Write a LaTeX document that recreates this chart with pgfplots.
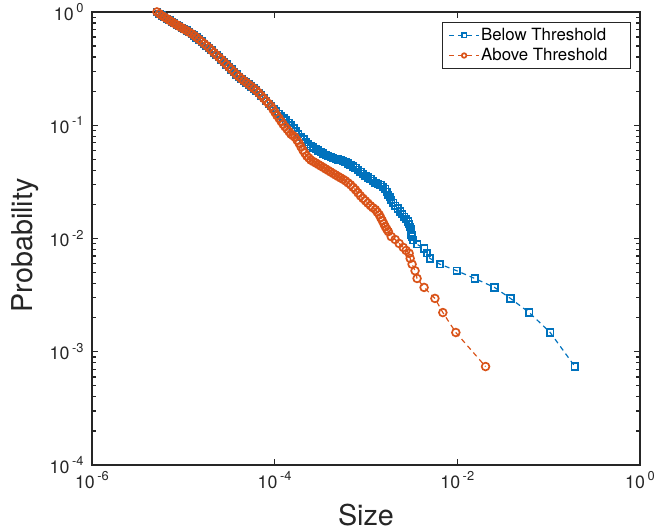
\documentclass[border=0pt]{standalone}
\usepackage{fontspec}
\setmainfont{TeX Gyre Heros}
\usepackage{pgfplots}
\pgfplotsset{compat=1.18}

\definecolor{mblue}{RGB}{0,114,189}
\definecolor{morange}{RGB}{217,83,25}
\definecolor{axgray}{gray}{0.15}

% power-of-ten tick label set in the text font
\newcommand{\tl}[1]{10\kern2.5bp\raisebox{0.42em}{\fontsize{13}{13}\selectfont #1}}

\begin{document}
\begin{tikzpicture}
\begin{axis}[
  name=ax,
  xmode=log, ymode=log,
  scale only axis, width=551.5bp, height=456bp,
  xmin=1e-6, xmax=1, ymin=1e-4, ymax=1,
  xtick={1e-6,1e-4,1e-2,1},
  xticklabels={\tl{-6},\tl{-4},\tl{-2},\tl{0}},
  minor xtick={},
  ytick={1e-4,1e-3,1e-2,1e-1,1},
  yticklabels={\tl{-4},\tl{-3},\tl{-2},\tl{-1},\tl{0}},
  minor ytick={2e-4,3e-4,4e-4,5e-4,6e-4,7e-4,8e-4,9e-4,
               2e-3,3e-3,4e-3,5e-3,6e-3,7e-3,8e-3,9e-3,
               2e-2,3e-2,4e-2,5e-2,6e-2,7e-2,8e-2,9e-2,
               0.2,0.3,0.4,0.5,0.6,0.7,0.8,0.9},
  tick align=inside,
  major tick length=6bp, minor tick length=4bp,
  axis line style={axgray, line width=1.5bp},
  every tick/.style={axgray, line width=1.2bp},
  tick label style={font=\fontsize{18}{20}\selectfont, text=axgray},
  xticklabel style={yshift=-3bp},
  yticklabel style={xshift=-5bp},
  legend style={
    at={(1,1)}, anchor=north east, xshift=-9bp, yshift=-10bp,
    draw=axgray, line width=1.2bp, fill=white,
    font=\fontsize{17}{18}\selectfont, text=black,
    inner xsep=6.5bp, inner ysep=4.5bp, row sep=3.5bp,
    nodes={inner sep=1.5bp}
  },
  legend cell align=left,
  legend image code/.code={
    \draw[#1, mark repeat=2, mark phase=2, mark size=2.3bp]
      plot coordinates {(0bp,0bp) (15bp,0bp) (30bp,0bp)};
  },
]

% CCDF of sizes below the threshold
\addplot[mblue, line width=1.2bp, dash pattern=on 5bp off 4bp,
  mark=square, mark size=3.3bp, mark options={solid, line width=1.7bp}]
coordinates {
(5.15e-6,1) (5.48e-6,0.963) (5.83e-6,0.928) (6.21e-6,0.900) (6.62e-6,0.872)
(7.05e-6,0.844) (7.50e-6,0.817) (7.98e-6,0.793) (8.50e-6,0.769) (9.05e-6,0.746)
(9.63e-6,0.724) (1.02e-5,0.704) (1.09e-5,0.684) (1.16e-5,0.662) (1.24e-5,0.641)
(1.32e-5,0.618) (1.40e-5,0.595) (1.49e-5,0.571) (1.59e-5,0.547) (1.69e-5,0.525)
(1.80e-5,0.504) (1.92e-5,0.481) (2.04e-5,0.459) (2.17e-5,0.437) (2.31e-5,0.417)
(2.46e-5,0.398) (2.62e-5,0.379) (2.79e-5,0.361) (2.97e-5,0.343) (3.16e-5,0.326)
(3.37e-5,0.310) (3.59e-5,0.295) (3.82e-5,0.280) (4.07e-5,0.268) (4.33e-5,0.257)
(4.61e-5,0.247) (4.90e-5,0.238) (5.22e-5,0.229) (5.56e-5,0.220) (5.92e-5,0.211)
(6.30e-5,0.203) (6.70e-5,0.193) (7.13e-5,0.183) (7.59e-5,0.173) (8.09e-5,0.163)
(8.61e-5,0.155) (9.16e-5,0.147) (9.76e-5,0.140) (1.04e-4,0.133) (1.11e-4,0.126)
(1.18e-4,0.120) (1.25e-4,0.115) (1.33e-4,0.111) (1.42e-4,0.105) (1.51e-4,0.100)
(1.61e-4,0.0941) (1.71e-4,0.0886) (1.82e-4,0.0834) (1.94e-4,0.0785) (2.07e-4,0.0747)
(2.20e-4,0.0710) (2.34e-4,0.0681) (2.49e-4,0.0654) (2.65e-4,0.0635) (2.83e-4,0.0616)
(3.01e-4,0.0598) (3.20e-4,0.0580) (3.41e-4,0.0563) (3.63e-4,0.0546) (3.86e-4,0.0535)
(4.11e-4,0.0524) (4.38e-4,0.0513) (4.66e-4,0.0503) (4.96e-4,0.0498) (5.28e-4,0.0493)
(5.62e-4,0.0483) (5.98e-4,0.0474) (6.37e-4,0.0460) (6.79e-4,0.0446) (7.23e-4,0.0433)
(7.69e-4,0.0420) (8.18e-4,0.0403) (8.71e-4,0.0387) (9.28e-4,0.0372) (9.89e-4,0.0357)
(1.05e-3,0.0346) (1.12e-3,0.0336) (1.19e-3,0.0323) (1.27e-3,0.0310) (1.35e-3,0.0304)
(1.44e-3,0.0298) (1.53e-3,0.0286) (1.63e-3,0.0275) (1.69e-3,0.0259) (1.76e-3,0.0243)
(1.82e-3,0.0231) (1.89e-3,0.0220) (1.99e-3,0.0207) (2.09e-3,0.0195) (2.23e-3,0.0184)
(2.37e-3,0.0173) (2.49e-3,0.0164) (2.62e-3,0.0156) (2.76e-3,0.0148) (2.90e-3,0.0141)
(2.97e-3,0.0134) (3.05e-3,0.0127) (3.09e-3,0.0120) (3.13e-3,0.0113) (3.16e-3,0.0108)
(3.20e-3,0.0104) (3.28e-3,9.63e-3) (3.63e-3,8.89e-3) (4.33e-3,8.15e-3) (4.66e-3,7.41e-3)
(5.02e-3,6.67e-3) (6.46e-3,5.93e-3) (9.89e-3,5.19e-3) (1.55e-2,4.44e-3) (2.56e-2,3.70e-3)
(3.82e-2,2.96e-3) (6.14e-2,2.22e-3) (0.104,1.48e-3) (0.194,7.41e-4)
};
\addlegendentry{Below Threshold\hspace*{15bp}}

% CCDF of sizes above the threshold
\addplot[morange, line width=1.2bp, dash pattern=on 5bp off 4bp,
  mark=o, mark size=3.9bp, mark options={solid, line width=1.7bp}]
coordinates {
(5.15e-6,1) (5.48e-6,0.963) (5.83e-6,0.928) (6.21e-6,0.900) (6.62e-6,0.872)
(7.05e-6,0.844) (7.50e-6,0.817) (7.98e-6,0.793) (8.50e-6,0.769) (9.05e-6,0.746)
(9.63e-6,0.724) (1.02e-5,0.704) (1.09e-5,0.684) (1.16e-5,0.662) (1.24e-5,0.641)
(1.32e-5,0.618) (1.40e-5,0.595) (1.49e-5,0.571) (1.59e-5,0.547) (1.69e-5,0.525)
(1.80e-5,0.504) (1.92e-5,0.481) (2.04e-5,0.459) (2.17e-5,0.437) (2.31e-5,0.417)
(2.46e-5,0.398) (2.62e-5,0.379) (2.79e-5,0.361) (2.97e-5,0.343) (3.16e-5,0.326)
(3.37e-5,0.310) (3.59e-5,0.295) (3.82e-5,0.280) (4.07e-5,0.268) (4.33e-5,0.257)
(4.61e-5,0.247) (4.90e-5,0.238) (5.22e-5,0.229) (5.56e-5,0.220) (5.92e-5,0.211)
(6.30e-5,0.203) (6.70e-5,0.193) (7.13e-5,0.183) (7.59e-5,0.173) (8.09e-5,0.163)
(8.61e-5,0.155) (9.16e-5,0.147) (9.62e-5,0.138) (1.01e-4,0.130) (1.06e-4,0.122)
(1.12e-4,0.115) (1.18e-4,0.108) (1.24e-4,0.102) (1.30e-4,0.0970) (1.37e-4,0.0923)
(1.44e-4,0.0877) (1.51e-4,0.0834) (1.59e-4,0.0809) (1.67e-4,0.0785) (1.76e-4,0.0739)
(1.85e-4,0.0695) (1.94e-4,0.0648) (2.04e-4,0.0604) (2.14e-4,0.0568) (2.25e-4,0.0535)
(2.37e-4,0.0514) (2.49e-4,0.0493) (2.65e-4,0.0478) (2.83e-4,0.0464) (3.01e-4,0.0450)
(3.20e-4,0.0437) (3.41e-4,0.0424) (3.63e-4,0.0411) (3.86e-4,0.0399) (4.11e-4,0.0387)
(4.38e-4,0.0375) (4.66e-4,0.0364) (4.96e-4,0.0353) (5.28e-4,0.0343) (5.62e-4,0.0333)
(5.98e-4,0.0323) (6.37e-4,0.0310) (6.79e-4,0.0298) (7.23e-4,0.0283) (7.69e-4,0.0269)
(8.18e-4,0.0253) (8.71e-4,0.0238) (9.28e-4,0.0226) (9.89e-4,0.0215) (1.05e-3,0.0205)
(1.12e-3,0.0195) (1.19e-3,0.0187) (1.27e-3,0.0180) (1.33e-3,0.0171) (1.40e-3,0.0162)
(1.45e-3,0.0153) (1.51e-3,0.0144) (1.57e-3,0.0135) (1.63e-3,0.0127) (1.69e-3,0.0121)
(1.76e-3,0.0115) (1.89e-3,0.0104) (2.09e-3,9.80e-3) (2.31e-3,9.04e-3) (2.56e-3,8.34e-3)
(2.75e-3,7.85e-3) (2.97e-3,7.41e-3) (3.05e-3,6.67e-3) (3.20e-3,5.93e-3) (3.45e-3,5.19e-3)
(3.63e-3,4.44e-3) (4.33e-3,3.70e-3) (5.69e-3,2.96e-3) (6.95e-3,2.22e-3) (9.64e-3,1.48e-3)
(2.04e-2,7.41e-4)
};
\addlegendentry{Above Threshold\hspace*{15bp}}

\end{axis}

% axis titles
\node[anchor=base, font=\fontsize{29}{33}\selectfont, text=axgray]
  at ([yshift=-61bp]ax.south) {Size};
\node[rotate=90, anchor=base, font=\fontsize{29}{33}\selectfont, text=axgray]
  at ([xshift=-59.5bp, yshift=-7bp]ax.west) {Probability};

% page extent
\path[use as bounding box] (-92.5bp,-67bp) rectangle (565.5bp,468bp);
\end{tikzpicture}
\end{document}
